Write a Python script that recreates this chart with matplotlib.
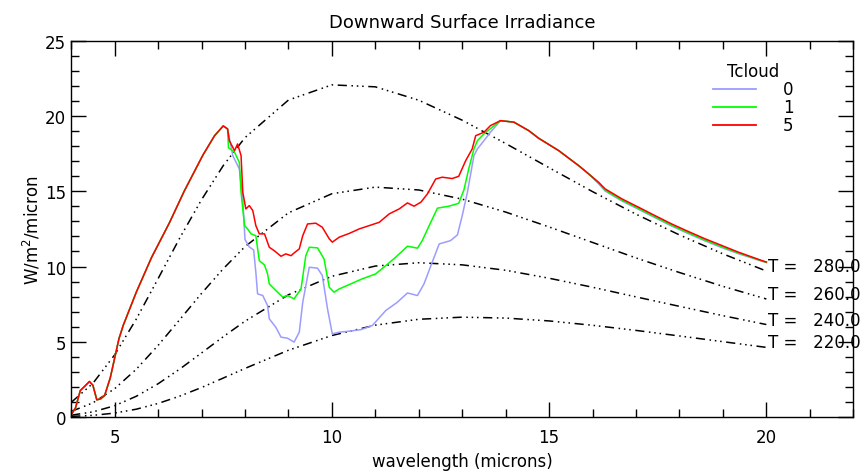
import matplotlib
matplotlib.use("Agg")
import matplotlib.pyplot as plt
import numpy as np

# blackbody curves (pi * B_lambda)
wl_bb = [4, 4.5, 5, 5.5, 6, 6.5, 7, 7.5, 8, 9, 10, 11, 12, 13, 14, 15, 16, 17, 18, 19, 20]
temps = [280.0, 260.0, 240.0, 220.0]
bb_280 = [0.96, 2.23, 4.12, 6.51, 9.19, 11.9, 14.44, 16.71, 18.57, 21.07, 22.08, 21.95, 21.06,
          19.73, 18.18, 16.57, 14.98, 13.48, 12.1, 10.84, 9.7]
bb_260 = [0.36, 0.93, 1.87, 3.17, 4.75, 6.47, 8.21, 9.85, 11.32, 13.57, 14.84, 15.28, 15.09,
          14.48, 13.62, 12.63, 11.6, 10.57, 9.6, 8.68, 7.84]
bb_240 = [0.11, 0.33, 0.74, 1.37, 2.2, 3.18, 4.25, 5.33, 6.36, 8.12, 9.35, 10.03, 10.25,
          10.11, 9.75, 9.22, 8.62, 7.98, 7.35, 6.73, 6.14]
bb_220 = [0.03, 0.1, 0.25, 0.51, 0.89, 1.38, 1.95, 2.58, 3.22, 4.43, 5.41, 6.1, 6.49,
          6.63, 6.57, 6.38, 6.09, 5.75, 5.38, 5.0, 4.62]
bb_curves = [bb_280, bb_260, bb_240, bb_220]

# part shared by all three cloud cases
wl_common = [4.0, 4.1, 4.21, 4.3, 4.42, 4.5, 4.59, 4.68, 4.77, 4.9, 5.0, 5.1, 5.2, 5.5,
             5.85, 6.26, 6.6, 7.03, 7.3, 7.5, 7.6]
irr_common = [0.13, 0.6, 1.75, 2.0, 2.35, 2.1, 1.13, 1.2, 1.42, 2.6, 3.9, 5.2, 6.1, 8.3,
              10.6, 12.9, 15.0, 17.4, 18.7, 19.35, 19.15]

# Tcloud = 5
wl_red = [7.64, 7.76, 7.83, 7.91, 7.95, 8.02, 8.1, 8.18, 8.25, 8.33, 8.45, 8.56, 8.67, 8.83,
          8.94, 9.06, 9.13, 9.25, 9.33, 9.44, 9.63, 9.78, 9.94, 10.01, 10.17, 10.4, 10.63,
          10.86, 11.09, 11.32, 11.55, 11.74, 11.89, 12.05, 12.2, 12.39, 12.54, 12.77, 12.92,
          13.08, 13.23, 13.31, 13.5, 13.65, 13.88, 14.19, 14.53, 14.76, 15.22, 15.68, 15.91,
          16.14, 16.29, 16.68, 17.06, 17.44, 17.82, 18.21, 18.59, 18.98, 19.36, 19.9, 20.0]
irr_red = [18.37, 17.7, 18.15, 17.37, 14.94, 13.83, 14.05, 13.72, 12.72, 12.17, 12.17, 11.28,
           11.06, 10.68, 10.84, 10.72, 10.9, 11.17, 12.05, 12.83, 12.88, 12.61, 11.84, 11.62,
           11.95, 12.2, 12.5, 12.72, 12.94, 13.5, 13.83, 14.23, 14.01, 14.28, 14.83, 15.82,
           15.94, 15.85, 16.0, 17.04, 17.82, 18.7, 18.93, 19.37, 19.7, 19.6, 19.04, 18.53,
           17.71, 16.71, 16.16, 15.6, 15.16, 14.49, 13.94, 13.38, 12.83, 12.32, 11.84, 11.39,
           10.95, 10.39, 10.3]

# Tcloud = 1
wl_green = [7.62, 7.76, 7.87, 7.91, 7.99, 8.06, 8.14, 8.25, 8.33, 8.45, 8.52, 8.56, 8.71,
            8.87, 8.98, 9.13, 9.29, 9.4, 9.48, 9.67, 9.82, 9.94, 10.05, 10.17, 10.4, 10.7,
            11.01, 11.24, 11.47, 11.74, 11.97, 12.08, 12.24, 12.43, 12.69, 12.92, 13.04, 13.15,
            13.27, 13.35, 13.54, 13.69, 13.88, 14.19, 14.53, 14.76, 15.22, 15.68, 15.91, 16.14,
            16.29, 16.68, 17.06, 17.44, 17.82, 18.21, 18.59, 18.98, 19.36, 19.9, 20.0]
irr_green = [17.9, 17.6, 16.93, 14.94, 12.72, 12.5, 12.17, 12.05, 10.39, 10.1, 9.51, 8.84, 8.4,
             7.96, 8.07, 7.85, 8.51, 10.72, 11.28, 11.24, 10.5, 8.62, 8.29, 8.51, 8.8, 9.18,
             9.51, 10.06, 10.62, 11.35, 11.22, 11.72, 12.72, 13.88, 14.01, 14.2, 15.1, 16.49,
             17.82, 18.37, 18.93, 19.26, 19.7, 19.6, 19.04, 18.53, 17.71, 16.71, 16.16, 15.55,
             15.08, 14.41, 13.86, 13.3, 12.75, 12.24, 11.76, 11.31, 10.9, 10.37, 10.28]

# Tcloud = 0
wl_blue = [7.72, 7.87, 7.95, 8.0, 8.1, 8.2, 8.25, 8.29, 8.41, 8.52, 8.56, 8.71, 8.83, 8.98,
           9.13, 9.25, 9.33, 9.48, 9.67, 9.78, 9.9, 10.01, 10.17, 10.4, 10.67, 10.93, 11.24,
           11.51, 11.74, 11.97, 12.12, 12.31, 12.47, 12.73, 12.89, 13.0, 13.12, 13.27, 13.35,
           13.5, 13.65, 13.88, 14.19, 14.53, 14.76, 15.22, 15.68, 15.91, 16.14, 16.29, 16.68,
           17.06, 17.44, 17.82, 18.21, 18.59, 18.98, 19.36, 19.9, 20.0]
irr_blue = [17.37, 16.49, 14.5, 11.8, 11.3, 11.1, 9.62, 8.18, 8.07, 7.4, 6.52, 5.96, 5.3, 5.23,
            4.97, 5.63, 7.63, 9.95, 9.89, 9.4, 7.18, 5.52, 5.63, 5.7, 5.8, 6.07, 7.07, 7.63,
            8.24, 8.07, 8.84, 10.29, 11.5, 11.72, 12.1, 13.38, 14.94, 17.37, 17.82, 18.37,
            18.93, 19.7, 19.6, 19.04, 18.53, 17.71, 16.71, 16.16, 15.5, 15.02, 14.35, 13.8,
            13.24, 12.69, 12.18, 11.7, 11.25, 10.85, 10.35, 10.27]

plt.rcParams['font.family'] = ['DejaVu Sans']
fig = plt.figure(figsize=(8.68, 4.77), dpi=100)
ax = fig.add_axes([0.082, 0.124, 0.901, 0.788])

dashdot3 = (0, (6, 3, 1, 2.5, 1, 2.5, 1, 3))
for t, bb in zip(temps, bb_curves):
    ax.plot(wl_bb, bb, color="black", lw=1.1, linestyle=dashdot3)
    ax.text(20.03, bb[-1], "T =   %.1f" % t, fontsize=12, ha="left", va="baseline",
            clip_on=False)

ax.plot(wl_common + wl_blue, irr_common + irr_blue, color="#9c9cff", lw=1.1, label="0")
ax.plot(wl_common + wl_green, irr_common + irr_green, color="#00ff00", lw=1.1, label="1")
ax.plot(wl_common + wl_red, irr_common + irr_red, color="#ff0000", lw=1.1, label="5")

ax.set_xlim(4, 22)
ax.set_ylim(0, 25)
ax.set_xticks([5, 10, 15, 20])
ax.set_xticks(np.arange(4, 23, 1), minor=True)
ax.set_yticks([0, 5, 10, 15, 20, 25])
ax.set_yticks(np.arange(0, 26, 1), minor=True)
ax.tick_params(which="both", direction="in", top=True, right=True, labelsize=12)
ax.tick_params(which="major", length=11, width=1)
ax.tick_params(which="minor", length=6, width=1)
ax.tick_params(axis="x", pad=8)
for s in ax.spines.values():
    s.set_linewidth(1)

ax.set_title("Downward Surface Irradiance", fontsize=13, pad=10)
ax.set_xlabel("wavelength (microns)", fontsize=12)
ax.set_ylabel("W/m$^2$/micron", fontsize=12, labelpad=2)

leg = ax.legend(title="Tcloud", loc="upper left", bbox_to_anchor=(0.81, 0.965),
                frameon=False, fontsize=12, title_fontsize=12, handlelength=2.6,
                handletextpad=1.6, labelspacing=0.0, borderpad=0)
for h in leg.get_lines():
    h.set_linewidth(1.3)

fig.savefig("out.png", dpi=100)
